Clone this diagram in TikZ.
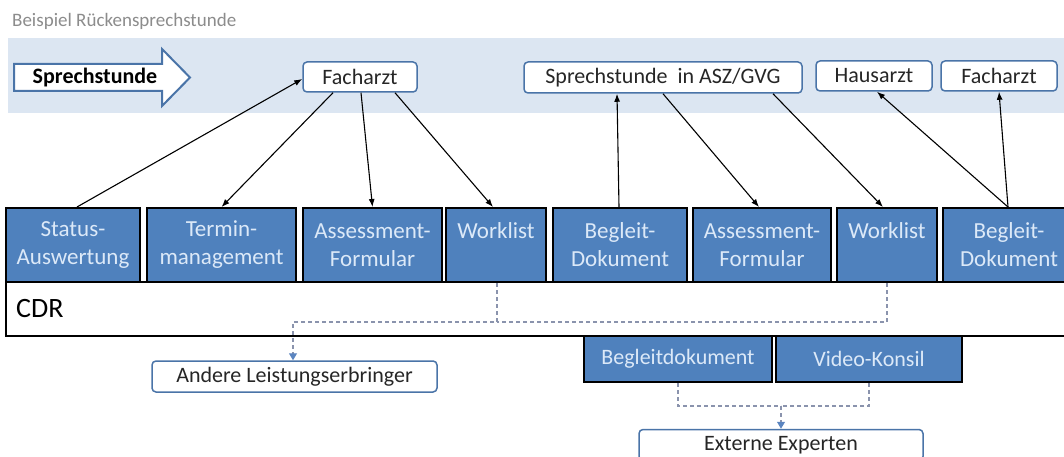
\documentclass[tikz,border=0pt]{standalone}
\usepackage{fontspec}
\setmainfont{Carlito}
\usetikzlibrary{arrows.meta}

\definecolor{bandblue}{HTML}{DCE6F2}
\definecolor{boxblue}{HTML}{4F81BD}
\definecolor{boxtext}{HTML}{DCE9F8}
\definecolor{tagline}{HTML}{4A74A8}
\definecolor{ink}{HTML}{262626}
\definecolor{titlegray}{HTML}{8C8C8C}
\definecolor{dashgray}{HTML}{8A93AD}
\definecolor{tipblue}{HTML}{5B85C0}

\tikzset{
  bluebox/.style={draw=black, line width=2pt, fill=boxblue, text=boxtext,
    font=\fontsize{23}{28}\selectfont, align=center, inner sep=0pt},
  tagbox/.style={draw=tagline, line width=1.5pt, fill=white, rounded corners=4pt,
    text=ink, font=\fontsize{22}{26}\selectfont, inner sep=0pt},
  flow/.style={draw=black, line width=1.1pt, -{Latex[length=8pt,width=6pt]}},
  relay/.style={draw=dashgray, line width=1.1pt, dash pattern=on 4pt off 3pt},
  relaytip/.style={-{Triangle[length=7pt,width=8pt,fill=tipblue,color=tipblue]}}
}

\begin{document}
\begin{tikzpicture}[x=1pt,y=-1pt]
\useasboundingbox (0,0) rectangle (1064,457);
\clip (0,0) rectangle (1064,457);
\fill[white] (0,0) rectangle (1064,457);

% heading
\node[anchor=base west, text=titlegray, font=\fontsize{19}{21}\selectfont, inner sep=0pt]
  (heading) at (12,27) {Beispiel Rückensprechstunde};

% light band with the consultation arrow
\fill[bandblue] (8,38) rectangle (1070,113);
\draw[tagline, line width=2pt, fill=white, line join=miter]
  (14,64) -- (162,64) -- (162,49) -- (190,77.5) -- (162,106) -- (162,91) -- (14,91) -- cycle;
\node[font=\bfseries\fontsize{22}{26}\selectfont, text=black, inner sep=0pt]
  (sprech) at (95,77.5) {Sprechstunde};

% actors in the band
\node[tagbox, minimum width=114pt, minimum height=30pt] (fa1) at (360,77) {Facharzt};
\node[tagbox, minimum width=278pt, minimum height=31pt] (asz) at (663,77.5) {Sprechstunde\ \ in ASZ/GVG};
\node[tagbox, minimum width=116pt, minimum height=30pt] (ha) at (874,76) {Hausarzt};
\node[tagbox, minimum width=116pt, minimum height=30pt] (fa2) at (999,76) {Facharzt};

% CDR bar
\draw[black, line width=2pt, fill=white] (6,282) rectangle (1075,336);
\node[anchor=west, font=\fontsize{28}{32}\selectfont, text=black, inner sep=0pt]
  (cdr) at (16,309) {CDR};

% service modules on top of the CDR
\node[bluebox, minimum width=134pt, minimum height=74pt] (stat) at (73,245) {Status-\\Auswertung};
\node[bluebox, minimum width=149pt, minimum height=74pt] (term) at (221.5,245) {Termin-\\management};
\node[bluebox, minimum width=139pt, minimum height=74pt] (as1) at (372.5,245) {Assessment-\\Formular};
\node[bluebox, minimum width=100pt, minimum height=74pt] (w1) at (496,245) {Worklist\\\mbox{}};
\node[bluebox, minimum width=134pt, minimum height=74pt] (bg1) at (620,245) {Begleit-\\Dokument};
\node[bluebox, minimum width=138pt, minimum height=74pt] (as2) at (762,245) {Assessment-\\Formular};
\node[bluebox, minimum width=100pt, minimum height=74pt] (w2) at (887,245) {Worklist\\\mbox{}};
\node[bluebox, minimum width=132pt, minimum height=74pt] (bg2) at (1009,245) {Begleit-\\Dokument};

% modules below the CDR
\node[bluebox, minimum width=188pt, minimum height=46pt, font=\fontsize{22}{26}\selectfont] (bd) at (678,359) {Begleitdokument};
\node[bluebox, minimum width=186pt, minimum height=46pt, font=\fontsize{22}{26}\selectfont] (vk) at (869,359) {Video-Konsil};

% external recipients
\node[tagbox, minimum width=285pt, minimum height=31pt] (andere) at (294.5,376.5) {Andere Leistungserbringer};
\node[tagbox, minimum width=284pt, minimum height=31pt] (ext) at (781,445) {Externe Experten};

% information flow between actors and modules
\draw[flow] ([xshift=4pt]stat.north) -- ([yshift=-2pt]fa1.west);
\draw[flow] ([xshift=-27pt]fa1.south) -- (term.north);
\draw[flow] ([xshift=1pt]fa1.south) -- (as1.north);
\draw[flow] ([xshift=35pt]fa1.south) -- ([xshift=-3pt]w1.north);
\draw[flow] ([xshift=-1pt]bg1.north) -- ([xshift=-46pt]asz.south);
\draw[flow] (asz.south) -- ([xshift=-3pt]as2.north);
\draw[flow] ([xshift=110pt]asz.south) -- ([xshift=-4pt]w2.north);
\draw[flow] ([xshift=-1pt]bg2.north) -- ([xshift=3pt]ha.south);
\draw[flow] ([xshift=-1pt]bg2.north) -- (fa2.south);

% forwarding through the CDR
\coordinate (busA) at (497,322);
\draw[relay] (w2.south) |- (busA);
\draw[relay, relaytip] ([xshift=1pt]w1.south) -- (busA) -| ([xshift=-1.5pt]andere.north);

\coordinate (busB) at (781,406);
\draw[relay] (bd.south) |- (busB);
\draw[relay] (vk.south) |- (busB);
\draw[relay, relaytip] (busB) -- (ext.north);
\end{tikzpicture}
\end{document}
